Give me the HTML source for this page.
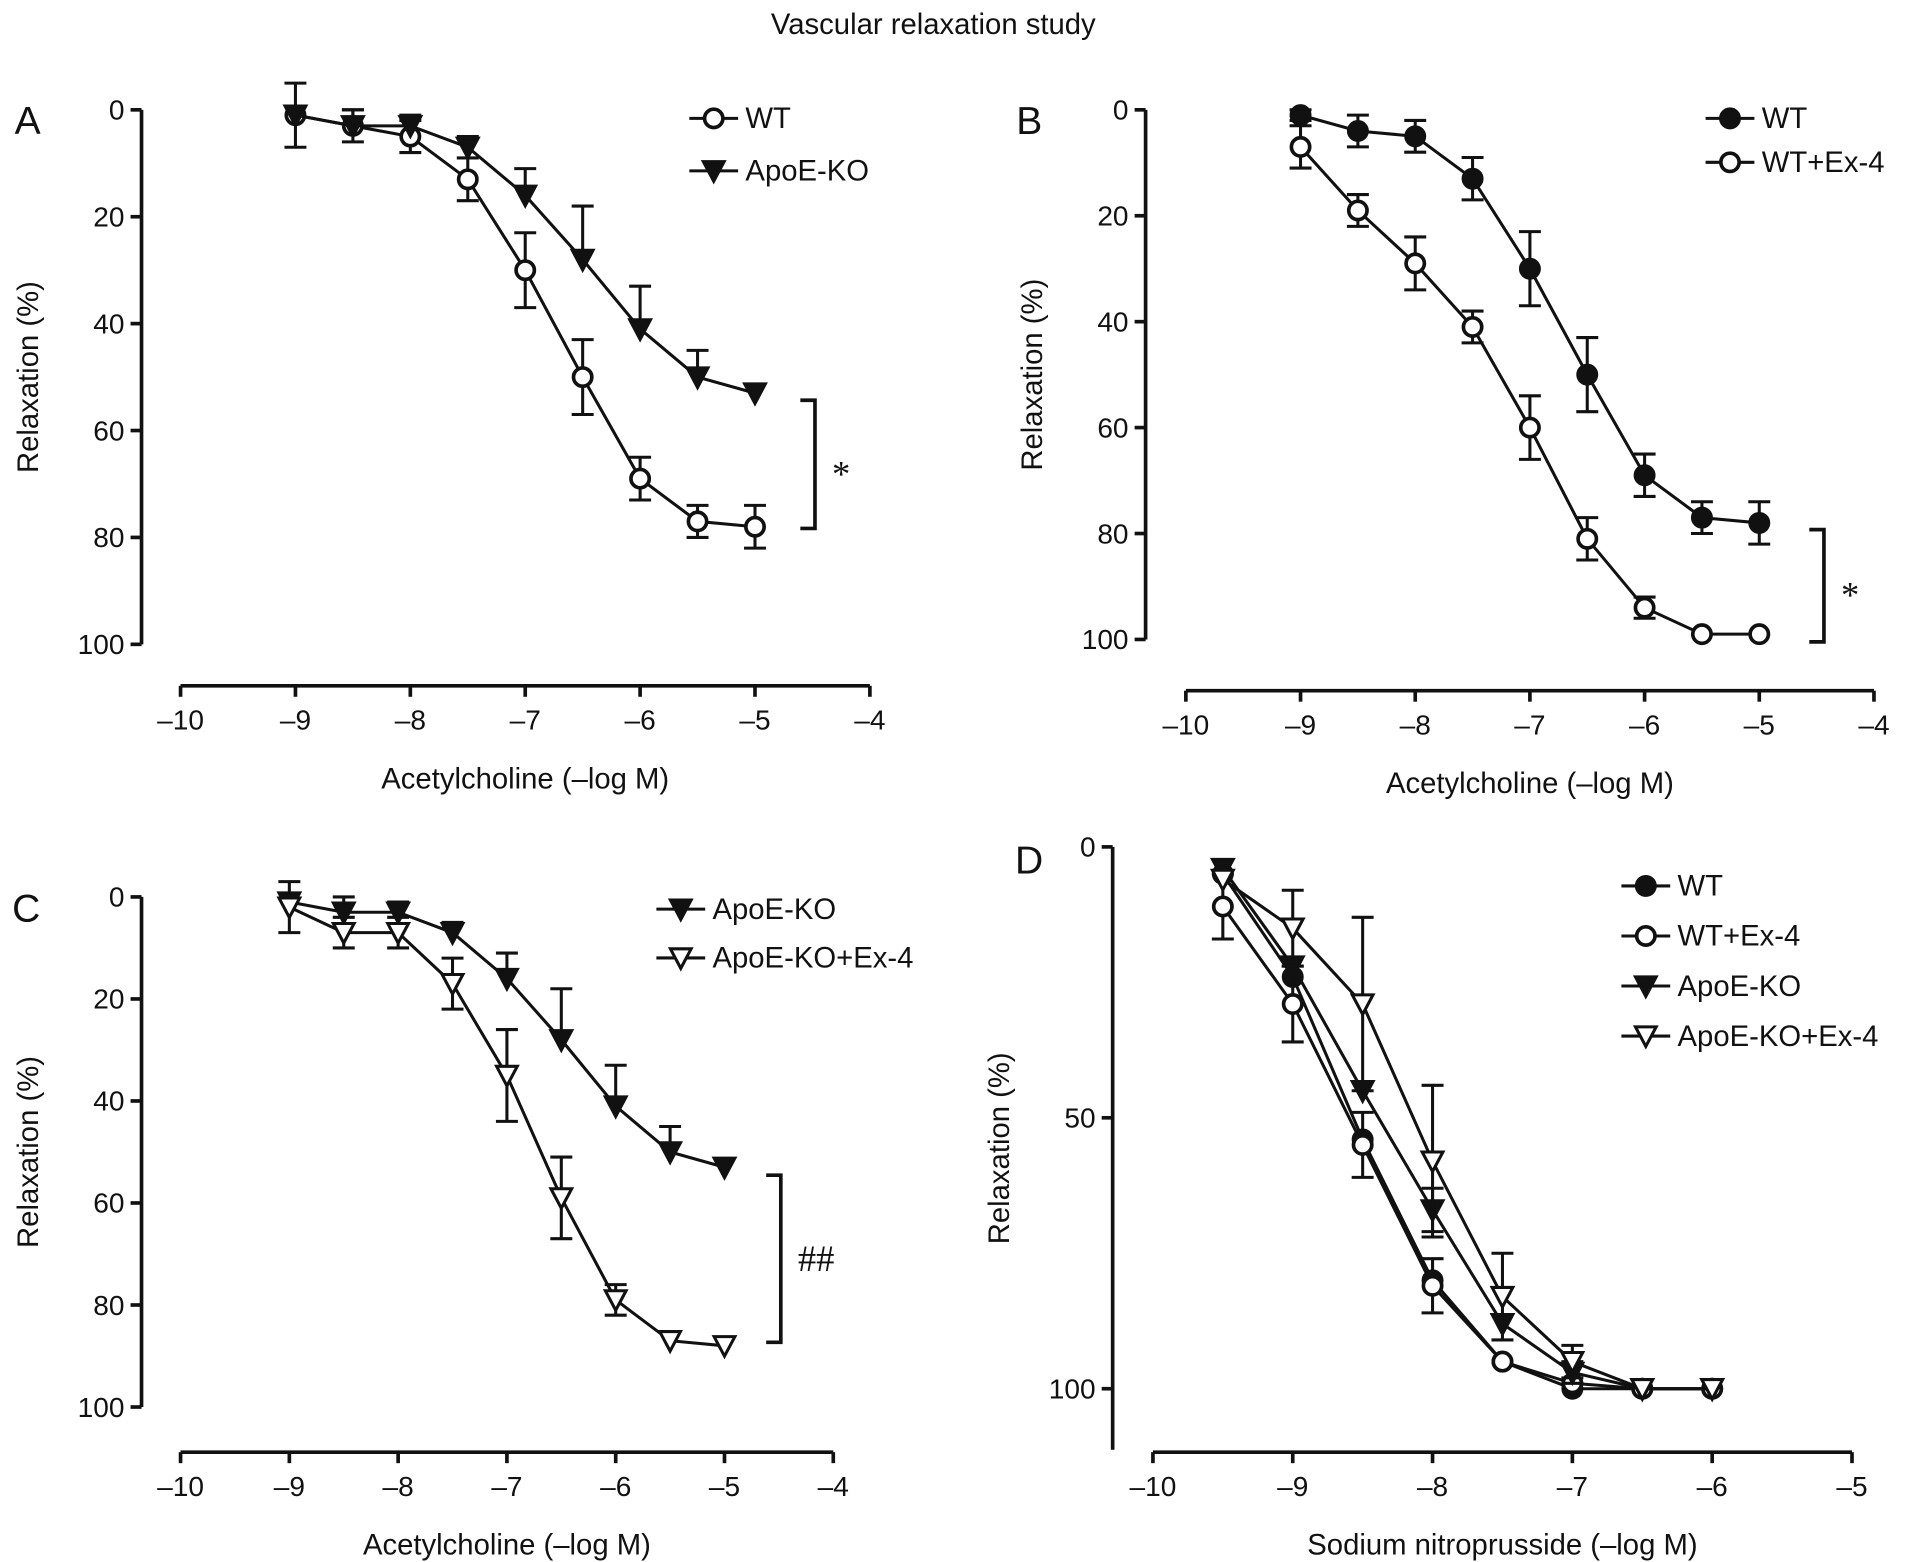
<!DOCTYPE html>
<html><head><meta charset="utf-8"><style>
html,body{margin:0;padding:0;background:#fff}
svg{display:block}
text{font-family:"Liberation Sans",Arial,sans-serif;fill:#111}
</style></head><body>
<svg id="fig" width="1913" height="1562" viewBox="0 0 1568 1280" preserveAspectRatio="none" xmlns="http://www.w3.org/2000/svg">
<text x="765" y="28" font-size="24" text-anchor="middle">Vascular relaxation study</text>
</svg>
<script>
const doseAch=[-9,-8.5,-8,-7.5,-7,-6.5,-6,-5.5,-5];
const doseSnp=[-9.5,-9,-8.5,-8,-7.5,-7,-6.5,-6];
const aWT=[1,3,5,13,30,50,69,77,78];
const aWTerr=[6,3,3,4,7,7,4,3,4];
const koVals=[1,3,3,7,16,28,41,50,53];
const koErr=[0,3,2,2,5,10,8,5,0];
const bWT=[1,4,5,13,30,50,69,77,78];
const bWTerr=[1,3,3,4,7,7,4,3,4];
const bEx=[7,19,29,41,60,81,94,99,99];
const bExErr=[4,3,5,3,6,4,2,0,0];
const cKoEx=[2,7,7,17,35,59,79,87,88];
const cKoExErr=[5,3,3,5,9,8,3,0,0];
const dWT=[5,24,54,80,95,100,100,100];
const dWTerr=[0,0,0,0,0,0,0,0];
const dEx=[11,29,55,81,95,99,100,100];
const dExErr=[6,7,6,5,0,0,0,0];
const dKo=[4,22,45,67,88,97,100,100];
const dKoErr=[0,0,0,4,0,2,0,0];
const dKoEx=[6,15,29,58,83,95,100,100];
const dKoExErr=[0,7,16,14,8,3,0,0];
const achTicks=[-10,-9,-8,-7,-6,-5,-4];
const snpTicks=[-10,-9,-8,-7,-6,-5];
const relTicks=[0,20,40,60,80,100];
const relTicksD=[0,50,100];

const svg=document.getElementById('fig');
const NS='http://www.w3.org/2000/svg';
function mk(tag,attrs,parent){const e=document.createElementNS(NS,tag);for(const k in attrs)e.setAttribute(k,attrs[k]);(parent||svg).appendChild(e);return e;}
function fmt(v){return v<0?'\u2013'+Math.abs(v):String(v);}

function marker(g,type,x,y){
  const r=7.5;
  if(type==='oc'||type==='fc'){mk('circle',{cx:x,cy:y,r:r,fill:type==='fc'?'#111':'#fff',stroke:'#111','stroke-width':3},g);}
  else{const pts=`${x-8.5},${y-7.5} ${x+8.5},${y-7.5} ${x},${y+8.5}`;mk('polygon',{points:pts,fill:type==='ft'?'#111':'#fff',stroke:'#111','stroke-width':2.5},g);}
}

function panel(cfg){
  const g=mk('g',{});
  
  
  const sx=v=>cfg.x0+(v-cfg.xmin)/(cfg.xmax-cfg.xmin)*(cfg.x1-cfg.x0);
  const sy=v=>cfg.y0+(v-cfg.ymin)/(cfg.ymax-cfg.ymin)*(cfg.y1-cfg.y0);
  const ya=mk('line',{x1:cfg.yax,y1:cfg.yaTop,x2:cfg.yax,y2:cfg.yaBot,stroke:'#111','stroke-width':3},g);
  
  cfg.yticks.forEach(t=>{mk('line',{x1:cfg.yax-9,y1:sy(t),x2:cfg.yax,y2:sy(t),stroke:'#111','stroke-width':3},g);
    const tx=mk('text',{x:cfg.yax-14,y:sy(t)+8,'font-size':23,'text-anchor':'end'},g);tx.textContent=t;
    });
  const xa=mk('line',{x1:sx(cfg.xmin),y1:cfg.xay,x2:sx(cfg.xmax),y2:cfg.xay,stroke:'#111','stroke-width':3},g);
  
  cfg.xticks.forEach(t=>{mk('line',{x1:sx(t),y1:cfg.xay,x2:sx(t),y2:cfg.xay+9,stroke:'#111','stroke-width':3},g);
    const tx=mk('text',{x:sx(t),y:cfg.xay+36,'font-size':23,'text-anchor':'middle'},g);tx.textContent=fmt(t);
    });
  const xt=mk('text',{x:(sx(cfg.xmin)+sx(cfg.xmax))/2,y:cfg.xay+84,'font-size':24,'text-anchor':'middle'},g);xt.textContent=cfg.xlabel;
  
  const ytx=cfg.yax-85, yty=(cfg.yaTop+cfg.yaBot)/2;
  const yt=mk('text',{x:ytx,y:yty,'font-size':24,'text-anchor':'middle',transform:`rotate(-90 ${ytx} ${yty})`},g);yt.textContent='Relaxation (%)';
  
  const lt=mk('text',{x:cfg.letterX,y:cfg.letterY,'font-size':32},g);lt.textContent=cfg.letter;
  
  cfg.series.forEach(s=>{
    const sg=mk('g',{},g);
    
    
    s.vals.forEach((v,i)=>{const e=s.err[i];if(!e)return;const x=sx(cfg.dose[i]);
      const yend=s.errUp?sy(v-e):sy(v+e);
      const y1=s.both?sy(v-e):sy(v);const y2=s.both?sy(v+e):yend;
      mk('line',{x1:x,y1:y1,x2:x,y2:y2,stroke:'#111','stroke-width':2.5},sg);
      if(s.both){mk('line',{x1:x-9,y1:y1,x2:x+9,y2:y1,stroke:'#111','stroke-width':2.5},sg);mk('line',{x1:x-9,y1:y2,x2:x+9,y2:y2,stroke:'#111','stroke-width':2.5},sg);}
      else mk('line',{x1:x-9,y1:yend,x2:x+9,y2:yend,stroke:'#111','stroke-width':2.5},sg);});
    const pts=s.vals.map((v,i)=>sx(cfg.dose[i])+','+sy(v)).join(' ');
    mk('polyline',{points:pts,fill:'none',stroke:'#111','stroke-width':2.5},sg);
    s.vals.forEach((v,i)=>{marker(sg,s.m,sx(cfg.dose[i]),sy(v));});
  });
  cfg.series.forEach((s,i)=>{const ly=cfg.legY+i*cfg.legDy;const lg=mk('g',{},g);
    
    mk('line',{x1:cfg.legX-20,y1:ly,x2:cfg.legX+20,y2:ly,stroke:'#111','stroke-width':2.5},lg);
    marker(lg,s.m,cfg.legX,ly);
    const t=mk('text',{x:cfg.legX+26,y:ly+8,'font-size':24},lg);t.textContent=s.label;});
  if(cfg.bracket){const b=cfg.bracket;const bg=mk('g',{},g);
    
    mk('polyline',{points:`${b.x-12},${b.y1} ${b.x},${b.y1} ${b.x},${b.y2} ${b.x-12},${b.y2}`,fill:'none',stroke:'#111','stroke-width':3},bg);
    const t=mk('text',{x:b.x+14,y:(b.y1+b.y2)/2+b.dy,'font-size':b.fs},bg);t.textContent=b.sym;t.setAttribute('style','font-family:"Liberation Serif",serif');}
}

panel({name:'panel-a',letter:'A',letterX:12,letterY:110,dose:doseAch,xmin:-10,xmax:-4,x0:148,x1:713,ymin:0,ymax:100,y0:90,y1:528,
  yax:116,yaTop:90,yaBot:528,xay:562,yticks:relTicks,xticks:achTicks,xlabel:'Acetylcholine (\u2013log M)',
  series:[{label:'WT',vals:aWT,err:aWTerr,m:'oc',both:true},{label:'ApoE-KO',vals:koVals,err:koErr,m:'ft',errUp:true}],
  legX:585,legY:97,legDy:43,bracket:{x:668,y1:328,y2:433,sym:'*',fs:30,dy:18}});
panel({name:'panel-b',letter:'B',letterX:833,letterY:110,dose:doseAch,xmin:-10,xmax:-4,x0:972,x1:1536,ymin:0,ymax:100,y0:90,y1:524,
  yax:939,yaTop:90,yaBot:524,xay:566,yticks:relTicks,xticks:achTicks,xlabel:'Acetylcholine (\u2013log M)',
  series:[{label:'WT',vals:bWT,err:bWTerr,m:'fc',both:true},{label:'WT+Ex-4',vals:bEx,err:bExErr,m:'oc',both:true}],
  legX:1418,legY:97,legDy:36,bracket:{x:1495,y1:434,y2:526,sym:'*',fs:30,dy:18}});
panel({name:'panel-c',letter:'C',letterX:10,letterY:755,dose:doseAch,xmin:-10,xmax:-4,x0:148,x1:683,ymin:0,ymax:100,y0:735,y1:1153,
  yax:116,yaTop:735,yaBot:1153,xay:1190,yticks:relTicks,xticks:achTicks,xlabel:'Acetylcholine (\u2013log M)',
  series:[{label:'ApoE-KO',vals:koVals,err:koErr,m:'ft',errUp:true},{label:'ApoE-KO+Ex-4',vals:cKoEx,err:cKoExErr,m:'ot',both:true}],
  legX:558,legY:745,legDy:40,bracket:{x:640,y1:963,y2:1100,sym:'##',fs:30,dy:10}});
panel({name:'panel-d',letter:'D',letterX:832,letterY:716,dose:doseSnp,xmin:-10,xmax:-5,x0:945,x1:1518,ymin:0,ymax:100,y0:694,y1:1138,
  yax:912,yaTop:694,yaBot:1188,xay:1190,yticks:relTicksD,xticks:snpTicks,xlabel:'Sodium nitroprusside (\u2013log M)',
  series:[{label:'WT',vals:dWT,err:dWTerr,m:'fc',both:true},{label:'WT+Ex-4',vals:dEx,err:dExErr,m:'oc',both:true},
          {label:'ApoE-KO',vals:dKo,err:dKoErr,m:'ft',both:true},{label:'ApoE-KO+Ex-4',vals:dKoEx,err:dKoExErr,m:'ot',both:true}],
  legX:1349,legY:726,legDy:41});
</script>
</body></html>
